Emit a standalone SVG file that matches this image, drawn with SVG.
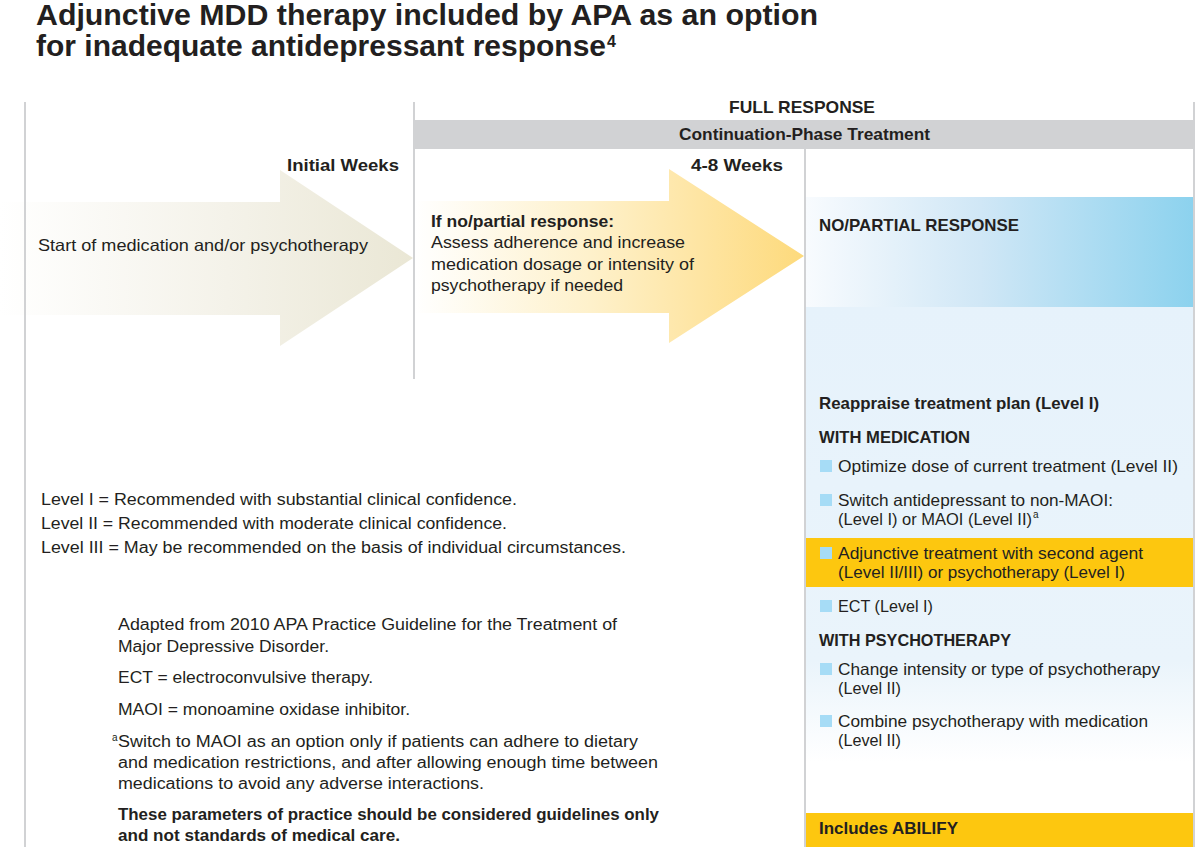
<svg xmlns="http://www.w3.org/2000/svg" width="1196" height="847" viewBox="0 0 1196 847">
<defs>
<linearGradient id="gArrow1" gradientUnits="userSpaceOnUse" x1="0" y1="0" x2="414" y2="0">
<stop offset="0" stop-color="#ffffff"/><stop offset="0.55" stop-color="#f4f2e9"/><stop offset="1" stop-color="#eae7d5"/>
</linearGradient>
<linearGradient id="gArrow2" gradientUnits="userSpaceOnUse" x1="415" y1="0" x2="804" y2="0">
<stop offset="0" stop-color="#ffffff"/><stop offset="0.45" stop-color="#fef1cb"/><stop offset="0.75" stop-color="#fee4a0"/><stop offset="1" stop-color="#fdda7c"/>
</linearGradient>
<linearGradient id="gBlue" gradientUnits="userSpaceOnUse" x1="806" y1="0" x2="1194" y2="0">
<stop offset="0" stop-color="#f8fbfe"/><stop offset="0.45" stop-color="#d0e7f6"/><stop offset="1" stop-color="#8cd2ee"/>
</linearGradient>
<linearGradient id="gPanel" gradientUnits="userSpaceOnUse" x1="0" y1="307" x2="0" y2="813">
<stop offset="0" stop-color="#e6f2fb"/><stop offset="0.7" stop-color="#eaf4fb"/><stop offset="0.9" stop-color="#ffffff"/>
</linearGradient>
<style>
.t{font-family:"Liberation Sans",Arial,sans-serif;fill:#231f20;font-size:16.5px}
.b{font-weight:bold}
.h{font-weight:bold;font-size:17px}
.ttl{font-weight:bold;font-size:30px}
.n{font-size:16px}
.sup{font-size:10px}
.sup4{font-weight:bold;font-size:16px}
.grid{stroke:#d1d2d4;stroke-width:2;fill:none}
.bullet{fill:#a6dcf6}
.yel{fill:#fdc70f}
</style>
</defs>
<rect width="1196" height="847" fill="#ffffff"/>

<g id="title">
<text class="t ttl" x="36" y="25" textLength="782" lengthAdjust="spacingAndGlyphs">Adjunctive MDD therapy included by APA as an option</text>
<text class="t ttl" x="36" y="56" textLength="570" lengthAdjust="spacingAndGlyphs">for inadequate antidepressant response</text>
<text class="t sup4" x="607" y="47">4</text>
</g>

<g id="full-response">
<rect x="414" y="120" width="781" height="29" fill="#d1d2d4"/>
<text class="t h" x="729" y="113" textLength="146" lengthAdjust="spacingAndGlyphs">FULL RESPONSE</text>
<text class="t h" x="679" y="140" textLength="251" lengthAdjust="spacingAndGlyphs">Continuation-Phase Treatment</text>
</g>

<g id="initial-weeks">
<polygon points="0,202 280,202 280,170 413,258 280,346 280,315 0,315" fill="url(#gArrow1)"/>
<text class="t h" x="287" y="171" textLength="112" lengthAdjust="spacingAndGlyphs">Initial Weeks</text>
<text class="t" x="38" y="251" textLength="330" lengthAdjust="spacingAndGlyphs">Start of medication and/or psychotherapy</text>
</g>

<g id="four-eight-weeks">
<polygon points="415,201 669,201 669,169 804,256 669,343 669,313 415,313" fill="url(#gArrow2)"/>
<text class="t h" x="691" y="171" textLength="92" lengthAdjust="spacingAndGlyphs">4-8 Weeks</text>
<text class="t b" x="431" y="227" textLength="183" lengthAdjust="spacingAndGlyphs">If no/partial response:</text>
<text class="t" x="431" y="248" textLength="254" lengthAdjust="spacingAndGlyphs">Assess adherence and increase</text>
<text class="t" x="431" y="270" textLength="263" lengthAdjust="spacingAndGlyphs">medication dosage or intensity of</text>
<text class="t" x="431" y="291" textLength="192" lengthAdjust="spacingAndGlyphs">psychotherapy if needed</text>
</g>

<g id="no-partial-response">
<rect x="806" y="197" width="388" height="110" fill="url(#gBlue)"/>
<rect x="806" y="307" width="388" height="506" fill="url(#gPanel)"/>
<rect x="806" y="538" width="388" height="49" class="yel"/>
<rect x="806" y="813" width="388" height="34" class="yel"/>
<text class="t h" x="819" y="231" textLength="200" lengthAdjust="spacingAndGlyphs">NO/PARTIAL RESPONSE</text>
<text class="t b" x="819" y="409" textLength="280" lengthAdjust="spacingAndGlyphs">Reappraise treatment plan (Level I)</text>
<text class="t b" x="819" y="443" textLength="151" lengthAdjust="spacingAndGlyphs">WITH MEDICATION</text>
<rect class="bullet" x="820" y="460" width="12" height="12"/>
<text class="t" x="838" y="472" textLength="340" lengthAdjust="spacingAndGlyphs">Optimize dose of current treatment (Level II)</text>
<rect class="bullet" x="820" y="494" width="12" height="12"/>
<text class="t" x="838" y="506" textLength="275" lengthAdjust="spacingAndGlyphs">Switch antidepressant to non-MAOI:</text>
<text class="t" x="838" y="525" textLength="194" lengthAdjust="spacingAndGlyphs">(Level I) or MAOI (Level II)</text>
<text class="t sup" x="1033" y="518">a</text>
<rect class="bullet" x="820" y="547" width="12" height="12"/>
<text class="t" x="838" y="559" textLength="305" lengthAdjust="spacingAndGlyphs">Adjunctive treatment with second agent</text>
<text class="t" x="838" y="578" textLength="287" lengthAdjust="spacingAndGlyphs">(Level II/III) or psychotherapy (Level I)</text>
<rect class="bullet" x="820" y="600" width="12" height="12"/>
<text class="t" x="838" y="612" textLength="95" lengthAdjust="spacingAndGlyphs">ECT (Level I)</text>
<text class="t b" x="819" y="646" textLength="192" lengthAdjust="spacingAndGlyphs">WITH PSYCHOTHERAPY</text>
<rect class="bullet" x="820" y="663" width="12" height="12"/>
<text class="t" x="838" y="675" textLength="322" lengthAdjust="spacingAndGlyphs">Change intensity or type of psychotherapy</text>
<text class="t" x="838" y="694" textLength="63" lengthAdjust="spacingAndGlyphs">(Level II)</text>
<rect class="bullet" x="820" y="715" width="12" height="12"/>
<text class="t" x="838" y="727" textLength="310" lengthAdjust="spacingAndGlyphs">Combine psychotherapy with medication</text>
<text class="t" x="838" y="746" textLength="63" lengthAdjust="spacingAndGlyphs">(Level II)</text>
<text class="t b" x="819" y="834" textLength="139" lengthAdjust="spacingAndGlyphs">Includes ABILIFY</text>
</g>

<g id="connectors">
<line class="grid" x1="25" y1="102" x2="25" y2="847"/>
<line class="grid" x1="414" y1="102" x2="414" y2="379"/>
<line class="grid" x1="805" y1="149" x2="805" y2="847"/>
<line class="grid" x1="1194" y1="102" x2="1194" y2="847"/>
</g>

<g id="legend">
<text class="t n" x="41" y="505" textLength="476" lengthAdjust="spacingAndGlyphs">Level I = Recommended with substantial clinical confidence.</text>
<text class="t n" x="41" y="529" textLength="466" lengthAdjust="spacingAndGlyphs">Level II = Recommended with moderate clinical confidence.</text>
<text class="t n" x="41" y="553" textLength="585" lengthAdjust="spacingAndGlyphs">Level III = May be recommended on the basis of individual circumstances.</text>
</g>

<g id="notes">
<text class="t n" x="118" y="630" textLength="499" lengthAdjust="spacingAndGlyphs">Adapted from 2010 APA Practice Guideline for the Treatment of</text>
<text class="t n" x="118" y="652" textLength="211" lengthAdjust="spacingAndGlyphs">Major Depressive Disorder.</text>
<text class="t n" x="118" y="683" textLength="255" lengthAdjust="spacingAndGlyphs">ECT = electroconvulsive therapy.</text>
<text class="t n" x="118" y="715" textLength="292" lengthAdjust="spacingAndGlyphs">MAOI = monoamine oxidase inhibitor.</text>
<text class="t sup" x="112" y="741">a</text>
<text class="t n" x="118" y="747" textLength="520" lengthAdjust="spacingAndGlyphs">Switch to MAOI as an option only if patients can adhere to dietary</text>
<text class="t n" x="118" y="768" textLength="540" lengthAdjust="spacingAndGlyphs">and medication restrictions, and after allowing enough time between</text>
<text class="t n" x="118" y="789" textLength="366" lengthAdjust="spacingAndGlyphs">medications to avoid any adverse interactions.</text>
<text class="t n b" x="118" y="820" textLength="541" lengthAdjust="spacingAndGlyphs">These parameters of practice should be considered guidelines only</text>
<text class="t n b" x="118" y="841" textLength="282" lengthAdjust="spacingAndGlyphs">and not standards of medical care.</text>
</g>
</svg>
